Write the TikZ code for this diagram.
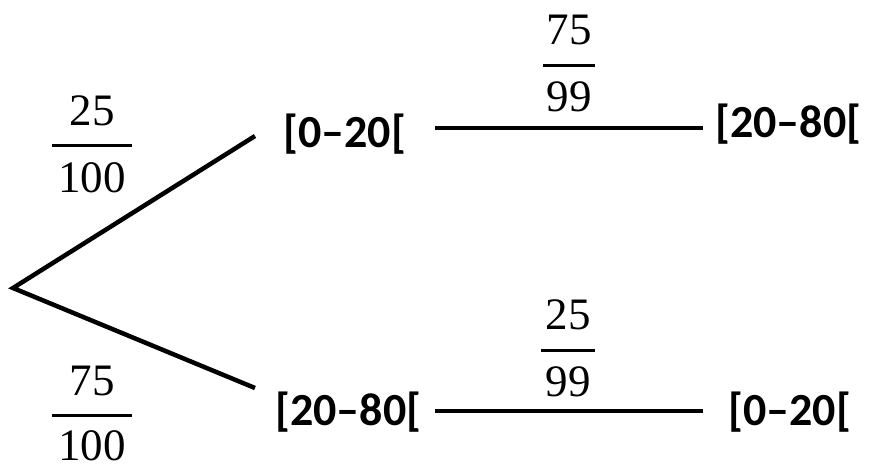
\documentclass[tikz,border=0pt]{standalone}
\usepackage{fontspec}
\newfontfamily\labfont{Carlito}
\newfontfamily\fracfont{Liberation Serif}
\usetikzlibrary{calc}
\tikzset{
  lbl/.style={inner sep=0pt, anchor=base west, font=\labfont\bfseries\fontsize{46}{50}\selectfont},
  num/.style={inner sep=0pt, anchor=base, font=\fracfont\fontsize{45}{50}\selectfont},
  branch/.style={line width=4.5pt},
  fbar/.style={line width=3pt},
}
\begin{document}
\begin{tikzpicture}[x=1pt,y=-1pt]
\useasboundingbox (0,0) rectangle (877,469);
\coordinate (root) at (13,288);
% labels
\node[lbl] (a1) at (283,147) {[0–20[};
\node[lbl] (a2) at (275,425) {[20–80[};
\node[lbl] (b1) at (715,137) {[20–80[};
\node[lbl] (b2) at (728,425) {[0–20[};
% branches
\draw[branch] ($(a1.base west)+(-28,-11)$) -- (root) -- ($(a2.base west)+(-20,-37)$);
\draw[branch] ($(a1.base east)+(29,-19)$) -- ($(b1.base west)+(-12,-9)$);
\draw[branch] ($(a2.base east)+(14,-14)$) -- ($(b2.base west)+(-25,-14)$);
% fraction 25/100
\node[num] (f1n) at (92,125) {25};
\node[num] (f1d) at (92,192) {100};
\draw[fbar] ($(f1d.north)+(-40,-16)$) -- ($(f1d.north)+(40,-16)$);
% fraction 75/100
\node[num] (f2n) at (92,395) {75};
\node[num] (f2d) at (92,460) {100};
\draw[fbar] ($(f2d.north)+(-40,-14)$) -- ($(f2d.north)+(40,-14)$);
% fraction 75/99
\node[num] (f3n) at (569,44) {75};
\node[num] (f3d) at (569,111) {99};
\draw[fbar] ($(f3d.north)+(-26,-16)$) -- ($(f3d.north)+(26,-16)$);
% fraction 25/99
\node[num] (f4n) at (568,329) {25};
\node[num] (f4d) at (568,396) {99};
\draw[fbar] ($(f4d.north)+(-27,-16)$) -- ($(f4d.north)+(27,-16)$);
\end{tikzpicture}
\end{document}
